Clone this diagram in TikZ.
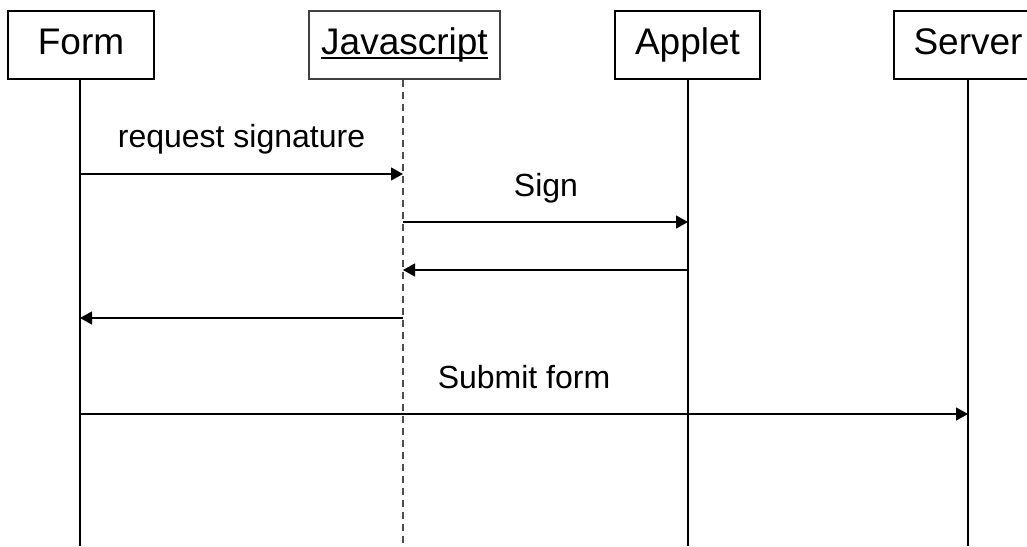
\documentclass[tikz,border=0pt]{standalone}
\usepackage{fontspec}
\setmainfont{Liberation Sans}
\usetikzlibrary{arrows.meta}
\newcommand{\ulword}[1]{\setbox0\hbox{#1}\rlap{\rule[-4.5pt]{\wd0}{1.6pt}}\box0}
\begin{document}
\begin{tikzpicture}[x=1pt,y=-1pt,
  actor/.style={draw,line width=1.2pt,minimum height=68pt,inner sep=0pt,text height=27pt,text depth=8pt,font=\fontsize{37}{40}\selectfont},
  life/.style={line width=1.8pt},
  msg/.style={line width=1.2pt,-{Triangle[length=12pt,width=13pt]}},
  lbl/.style={anchor=base,font=\fontsize{32}{36}\selectfont,inner sep=0pt}]
\useasboundingbox (0,0) rectangle (1027,546);
\begin{scope}
\clip (0,0) rectangle (1027,546);
\node[actor,minimum width=146pt] (form) at (81,45) {Form};
\node[actor,minimum width=191pt,draw=black!75] (js) at (404.5,45) {\ulword{Javascript}};
\node[actor,minimum width=145pt] (applet) at (687.5,45) {Applet};
\node[actor,minimum width=148pt] (server) at (968,45) {Server};
\coordinate (fe) at (80,546);
\coordinate (je) at (403,546);
\coordinate (ae) at (688,546);
\coordinate (se) at (968,546);
\draw[life] (form.south -| fe) -- (fe);
\draw[line width=1.2pt,black!70,dash pattern=on 7pt off 5pt] (js.south -| je) -- (je);
\draw[life] (applet.south -| ae) -- (ae);
\draw[life] (server.south -| se) -- (se);
\coordinate (m1a) at (80,174); \coordinate (m1b) at (403,174);
\coordinate (m2a) at (403,222); \coordinate (m2b) at (688,222);
\coordinate (m3a) at (688,270); \coordinate (m3b) at (403,270);
\coordinate (m4a) at (403,318); \coordinate (m4b) at (80,318);
\coordinate (m5a) at (80,414); \coordinate (m5b) at (968,414);
\draw[msg] (m1a) -- (m1b);
\draw[msg] (m2a) -- (m2b);
\draw[msg] (m3a) -- (m3b);
\draw[msg] (m4a) -- (m4b);
\draw[msg] (m5a) -- (m5b);
\node[lbl] (l1) at (241.5,147) {request signature};
\node[lbl] (l2) at (546,196) {Sign};
\node[lbl] (l5) at (524,388) {Submit form};
\end{scope}
\end{tikzpicture}
\end{document}
